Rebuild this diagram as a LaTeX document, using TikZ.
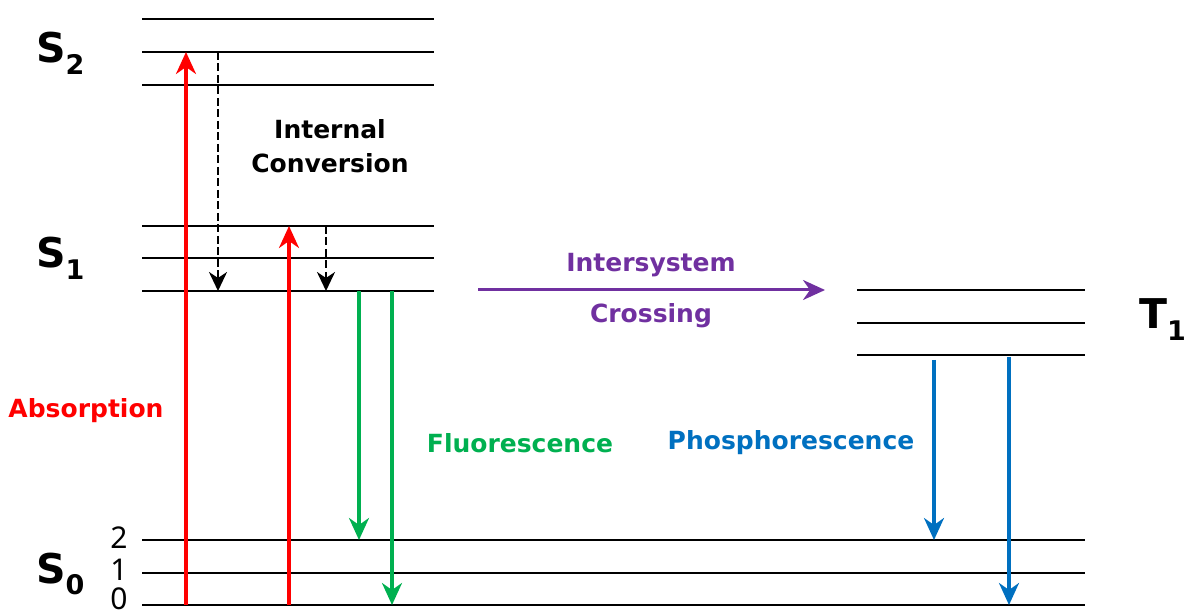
\documentclass[tikz,border=0pt]{standalone}
\usepackage{fontspec}
\setmainfont{DejaVu Sans}
\newfontfamily\numfont{Noto Sans}
\usetikzlibrary{arrows.meta}
\definecolor{absred}{RGB}{255,0,0}
\definecolor{flgreen}{RGB}{0,176,80}
\definecolor{phblue}{RGB}{0,112,192}
\definecolor{iscpurple}{RGB}{112,48,160}
\tikzset{
  lvl/.style={line width=1.7pt},
  lvlthick/.style={line width=2.9pt},
  trans/.style={line width=3.2pt,-{Stealth[length=22pt,width=20pt,inset=7pt]}},
  ictrans/.style={line width=2.6pt,dash pattern=on 8pt off 3.5pt,-{Stealth[length=19pt,width=18pt,inset=6pt]}},
  statelbl/.style={font=\bfseries\fontsize{41}{42}\selectfont,inner sep=0pt,anchor=base west},
  vlbl/.style={font=\numfont\fontsize{30}{30}\selectfont,inner sep=0pt},
  txt/.style={font=\bfseries\fontsize{25}{34}\selectfont,align=center,inner sep=0pt}
}
\newcommand{\lsub}[1]{\raisebox{-0.28em}{\fontsize{27}{27}\selectfont #1}}
\begin{document}
\begin{tikzpicture}[x=1pt,y=-1pt]
\useasboundingbox (0,0) rectangle (1184,612);
% S2 levels
\draw[lvl] (142,19) -- (434,19);
\draw[lvl] (142,52) -- (434,52);
\draw[lvlthick] (142,85) -- (434,85);
% S1 levels
\draw[lvl] (142,226) -- (434,226);
\draw[lvl] (142,258) -- (434,258);
\draw[lvlthick] (142,291) -- (434,291);
% T1 levels
\draw[lvl] (857,290) -- (1085,290);
\draw[lvl] (857,323) -- (1085,323);
\draw[lvlthick] (857,355) -- (1085,355);
% S0 levels
\draw[lvl] (142,540) -- (1085,540);
\draw[lvl] (142,573) -- (1085,573);
\draw[lvlthick] (142,605) -- (1085,605);
% state labels
\node[statelbl] (S2) at (36,63) {S\lsub{2}};
\node[statelbl] (S1) at (36,268) {S\lsub{1}};
\node[statelbl] (S0) at (36,583) {S\lsub{0}};
\node[statelbl] (T1) at (1139,329) {T\lsub{1}};
\node[vlbl] (v2) at (119,538) {2};
\node[vlbl] (v1) at (119,570) {1};
\node[vlbl] (v0) at (119,599) {0};
% coordinates
\coordinate (a1s) at (186,605);
\coordinate (a1e) at (186,52);
\coordinate (a2s) at (289,605);
\coordinate (a2e) at (289,226);
\coordinate (ic1s) at (218,52);
\coordinate (ic1e) at (218,291);
\coordinate (ic2s) at (326,226);
\coordinate (ic2e) at (326,291);
\coordinate (f1s) at (359,291);
\coordinate (f1e) at (359,540);
\coordinate (f2s) at (392,291);
\coordinate (f2e) at (392,605);
\coordinate (p1s) at (934,360);
\coordinate (p1e) at (934,540);
\coordinate (p2s) at (1009,357);
\coordinate (p2e) at (1009,605);
\coordinate (iscs) at (478,290);
\coordinate (isce) at (825,290);
% transitions
\draw[trans,absred] (a1s) -- (a1e);
\draw[trans,absred] (a2s) -- (a2e);
\draw[ictrans] (ic1s) -- (ic1e);
\draw[ictrans] (ic2s) -- (ic2e);
\draw[trans,flgreen] (f1s) -- (f1e);
\draw[trans,flgreen] (f2s) -- (f2e);
\draw[trans,phblue] (p1s) -- (p1e);
\draw[trans,phblue] (p2s) -- (p2e);
\draw[trans,iscpurple,line width=3pt] (iscs) -- (isce);
% texts
\node[txt] (ic) at (330,146) {Internal\\Conversion};
\node[txt,text=iscpurple] (isc1) at (651,265) {Intersystem};
\node[txt,text=iscpurple] (isc2) at (651,316) {Crossing};
\node[txt,text=absred] (abs) at (86,411) {Absorption};
\node[txt,text=flgreen] (fl) at (520,443) {Fluorescence};
\node[txt,text=phblue] (ph) at (791,443) {Phosphorescence};
\end{tikzpicture}
\end{document}
